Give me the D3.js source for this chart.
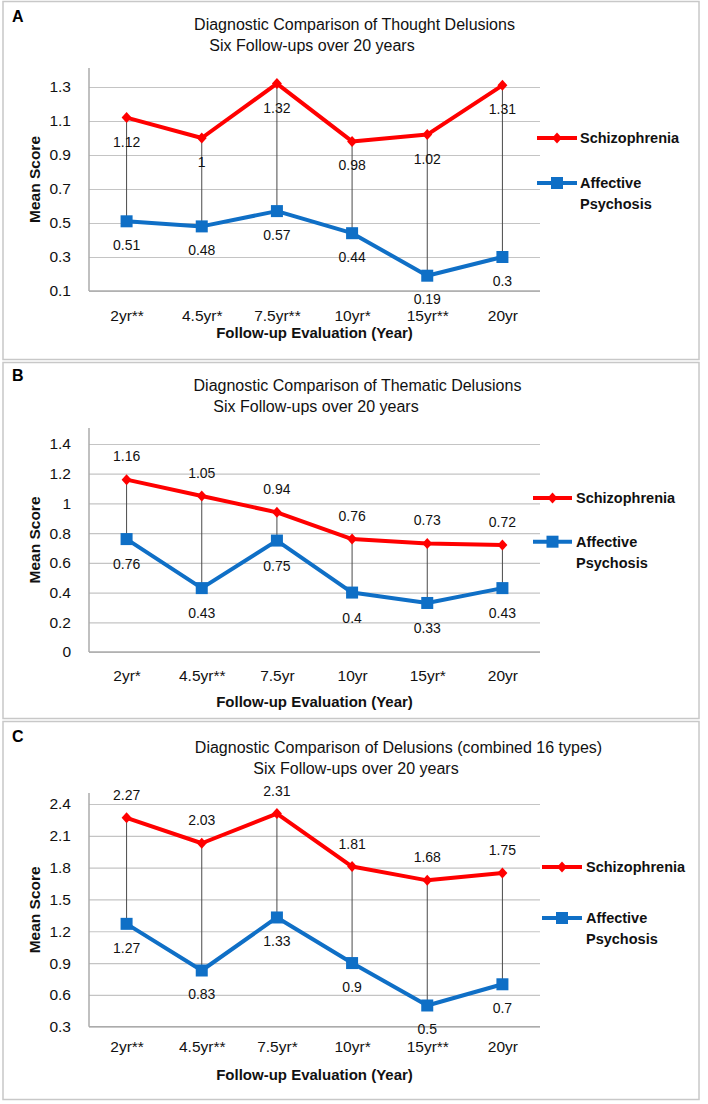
<!DOCTYPE html>
<html>
<head>
<meta charset="utf-8">
<script src="https://cdn.jsdelivr.net/npm/d3@7"></script>
<style>
  html, body { margin: 0; padding: 0; background: #fff; }
  svg { display: block; font-family: "Liberation Sans", Arial, sans-serif; }
</style>
</head>
<body>
<svg id="chart" width="708" height="1104"></svg>
<script>
// ---------- DATA ----------
const seriesNames = ["Schizophrenia", "Affective Psychosis"];
const panelLetters = ["A", "B", "C"];
const titlesLine1 = [
  "Diagnostic Comparison of Thought Delusions",
  "Diagnostic Comparison of Thematic Delusions",
  "Diagnostic Comparison of Delusions (combined 16 types)"
];
const titleLine2 = "Six Follow-ups over 20 years";
const xAxisTitle = "Follow-up Evaluation (Year)";
const yAxisTitle = "Mean Score";

const categoriesA = ["2yr**", "4.5yr*", "7.5yr**", "10yr*", "15yr**", "20yr"];
const schizophreniaA = [1.12, 1, 1.32, 0.98, 1.02, 1.31];
const affectiveA = [0.51, 0.48, 0.57, 0.44, 0.19, 0.3];
const yTicksA = [0.1, 0.3, 0.5, 0.7, 0.9, 1.1, 1.3];

const categoriesB = ["2yr*", "4.5yr**", "7.5yr", "10yr", "15yr*", "20yr"];
const schizophreniaB = [1.16, 1.05, 0.94, 0.76, 0.73, 0.72];
const affectiveB = [0.76, 0.43, 0.75, 0.4, 0.33, 0.43];
const yTicksB = [0, 0.2, 0.4, 0.6, 0.8, 1, 1.2, 1.4];

const categoriesC = ["2yr**", "4.5yr**", "7.5yr*", "10yr*", "15yr**", "20yr"];
const schizophreniaC = [2.27, 2.03, 2.31, 1.81, 1.68, 1.75];
const affectiveC = [1.27, 0.83, 1.33, 0.9, 0.5, 0.7];
const yTicksC = [0.3, 0.6, 0.9, 1.2, 1.5, 1.8, 2.1, 2.4];

// ---------- LAYOUT (positions / styles only) ----------
const layouts = [
  { top: 1.5, bottom: 359.5, letterY: 22, t1: [354.5, 30], t2: [312, 51],
    yTop: 87, yBottom: 291, axisTop: 68, xTickY: 320.5, xTitleY: 338,
    leg: [537, 577, 580], legY: [138, 183, 204], redDy: 29, blueDy: 28.5 },
  { top: 362.5, bottom: 718.5, letterY: 381, t1: [357.5, 391], t2: [316, 412],
    yTop: 444, yBottom: 652, axisTop: 428, xTickY: 681, xTitleY: 706.5,
    leg: [533, 572, 576], legY: [498, 541.7, 563], redDy: -18.5, blueDy: 30 },
  { top: 721.5, bottom: 1099.5, letterY: 742, t1: [398.5, 753], t2: [356, 774],
    yTop: 804, yBottom: 1026.7, axisTop: 793, xTickY: 1052, xTitleY: 1080,
    leg: [542, 582, 586], legY: [867, 918, 939], redDy: -18, blueDy: 29 }
];
const plotLeft = 89, plotRight = 540;
const RED = "#FF0000", BLUE = "#0F6FC6";
const GRID = "#C4C4C4", AXIS = "#ABABAB", DROP = "#4A4A4A";
const INK = "#111";

const panels = [
  { cats: categoriesA, s1: schizophreniaA, s2: affectiveA, ticks: yTicksA },
  { cats: categoriesB, s1: schizophreniaB, s2: affectiveB, ticks: yTicksB },
  { cats: categoriesC, s1: schizophreniaC, s2: affectiveC, ticks: yTicksC }
];

const svg = d3.select("#chart");
const fmtTick = d3.format(".1~f");
const diamond = d3.symbol().type(d3.symbolDiamond2 || d3.symbolDiamond).size(70);

panels.forEach((p, i) => {
  const L = layouts[i];
  const g = svg.append("g");

  // panel border
  g.append("rect")
    .attr("x", 3).attr("y", L.top)
    .attr("width", 696).attr("height", L.bottom - L.top)
    .attr("fill", "#fff").attr("stroke", "#C8C8C8").attr("stroke-width", 1.5);

  // panel letter
  g.append("text").attr("x", 12).attr("y", L.letterY)
    .attr("font-size", 16).attr("font-weight", "bold").attr("fill", "#000")
    .text(panelLetters[i]);

  // titles
  g.append("text").attr("x", L.t1[0]).attr("y", L.t1[1])
    .attr("text-anchor", "middle").attr("font-size", 16).attr("fill", INK)
    .text(titlesLine1[i]);
  g.append("text").attr("x", L.t2[0]).attr("y", L.t2[1])
    .attr("text-anchor", "middle").attr("font-size", 16).attr("fill", INK)
    .text(titleLine2);

  // scales
  const x = d3.scalePoint().domain(p.cats).range([plotLeft, plotRight]).padding(0.5);
  const y = d3.scaleLinear().domain(d3.extent(p.ticks)).range([L.yBottom, L.yTop]);

  // y axis with gridlines
  const yAx = g.append("g").attr("transform", `translate(${plotLeft},0)`)
    .call(d3.axisLeft(y).tickValues(p.ticks).tickFormat(fmtTick)
      .tickSizeInner(-(plotRight - plotLeft)).tickSizeOuter(0).tickPadding(18));
  yAx.select(".domain").remove();
  yAx.selectAll(".tick line").attr("stroke", GRID).attr("stroke-width", 1.2);
  yAx.selectAll(".tick text").attr("font-size", 15.5).attr("fill", INK)
    .attr("font-family", "Liberation Sans, Arial, sans-serif");

  // vertical axis line
  g.append("line").attr("x1", plotLeft).attr("x2", plotLeft)
    .attr("y1", L.axisTop).attr("y2", L.yBottom)
    .attr("stroke", AXIS).attr("stroke-width", 1.5);
  // bottom axis line
  g.append("line").attr("x1", plotLeft).attr("x2", plotRight)
    .attr("y1", L.yBottom).attr("y2", L.yBottom)
    .attr("stroke", AXIS).attr("stroke-width", 1.3);

  // x axis labels
  const xAx = g.append("g").attr("transform", `translate(0,${L.yBottom})`)
    .call(d3.axisBottom(x).tickSize(0).tickPadding(0));
  xAx.select(".domain").remove();
  xAx.selectAll(".tick text")
    .attr("y", L.xTickY - L.yBottom).attr("dy", null)
    .attr("font-size", 15.5).attr("fill", INK)
    .attr("font-family", "Liberation Sans, Arial, sans-serif");

  // axis titles
  g.append("text").attr("x", (plotLeft + plotRight) / 2).attr("y", L.xTitleY)
    .attr("text-anchor", "middle").attr("font-size", 15).attr("font-weight", "bold")
    .attr("fill", INK).text(xAxisTitle);
  const yc = (L.axisTop + L.yBottom) / 2;
  g.append("text").attr("transform", `translate(40,${yc}) rotate(-90)`)
    .attr("text-anchor", "middle").attr("font-size", 15.5).attr("font-weight", "bold")
    .attr("fill", INK).text(yAxisTitle);

  // drop lines
  g.selectAll(".drop").data(p.cats).enter().append("line")
    .attr("x1", d => x(d)).attr("x2", d => x(d))
    .attr("y1", (d, k) => y(p.s1[k])).attr("y2", (d, k) => y(p.s2[k]))
    .attr("stroke", DROP).attr("stroke-width", 1);

  const line = d3.line().x(d => x(d.c)).y(d => y(d.v));
  const d1 = p.cats.map((c, k) => ({ c, v: p.s1[k] }));
  const d2 = p.cats.map((c, k) => ({ c, v: p.s2[k] }));

  // series lines
  g.append("path").datum(d2).attr("d", line).attr("fill", "none")
    .attr("stroke", BLUE).attr("stroke-width", 4).attr("stroke-linejoin", "round");
  g.append("path").datum(d1).attr("d", line).attr("fill", "none")
    .attr("stroke", RED).attr("stroke-width", 4).attr("stroke-linejoin", "round");

  // markers
  g.selectAll(".sq").data(d2).enter().append("rect")
    .attr("x", d => x(d.c) - 6).attr("y", d => y(d.v) - 6)
    .attr("width", 12).attr("height", 12).attr("fill", BLUE);
  g.selectAll(".dm").data(d1).enter().append("path")
    .attr("d", diamond)
    .attr("transform", d => `translate(${x(d.c)},${y(d.v)}) scale(0.95,1.05)`)
    .attr("fill", RED);

  // data labels
  g.selectAll(".l1").data(d1).enter().append("text")
    .attr("x", d => x(d.c)).attr("y", d => y(d.v) + L.redDy)
    .attr("text-anchor", "middle").attr("font-size", 14).attr("fill", INK)
    .text(d => String(d.v));
  g.selectAll(".l2").data(d2).enter().append("text")
    .attr("x", d => x(d.c)).attr("y", d => y(d.v) + L.blueDy)
    .attr("text-anchor", "middle").attr("font-size", 14).attr("fill", INK)
    .text(d => String(d.v));

  // legend
  const [lx1, lx2, ltx] = L.leg;
  const lm = (lx1 + lx2) / 2;
  g.append("line").attr("x1", lx1).attr("x2", lx2).attr("y1", L.legY[0]).attr("y2", L.legY[0])
    .attr("stroke", RED).attr("stroke-width", 4);
  g.append("path").attr("d", diamond)
    .attr("transform", `translate(${lm},${L.legY[0]}) scale(0.95,1.05)`).attr("fill", RED);
  g.append("text").attr("x", ltx).attr("y", L.legY[0] + 5)
    .attr("font-size", 14.5).attr("font-weight", "bold").attr("fill", INK)
    .text(seriesNames[0]);

  g.append("line").attr("x1", lx1).attr("x2", lx2).attr("y1", L.legY[1]).attr("y2", L.legY[1])
    .attr("stroke", BLUE).attr("stroke-width", 4);
  g.append("rect").attr("x", lm - 6).attr("y", L.legY[1] - 6)
    .attr("width", 12).attr("height", 12).attr("fill", BLUE);
  const words = seriesNames[1].split(" ");
  g.append("text").attr("x", ltx).attr("y", L.legY[1] + 5)
    .attr("font-size", 14.5).attr("font-weight", "bold").attr("fill", INK)
    .text(words[0]);
  g.append("text").attr("x", ltx).attr("y", L.legY[2] + 5)
    .attr("font-size", 14.5).attr("font-weight", "bold").attr("fill", INK)
    .text(words[1]);
});
</script>
</body>
</html>
